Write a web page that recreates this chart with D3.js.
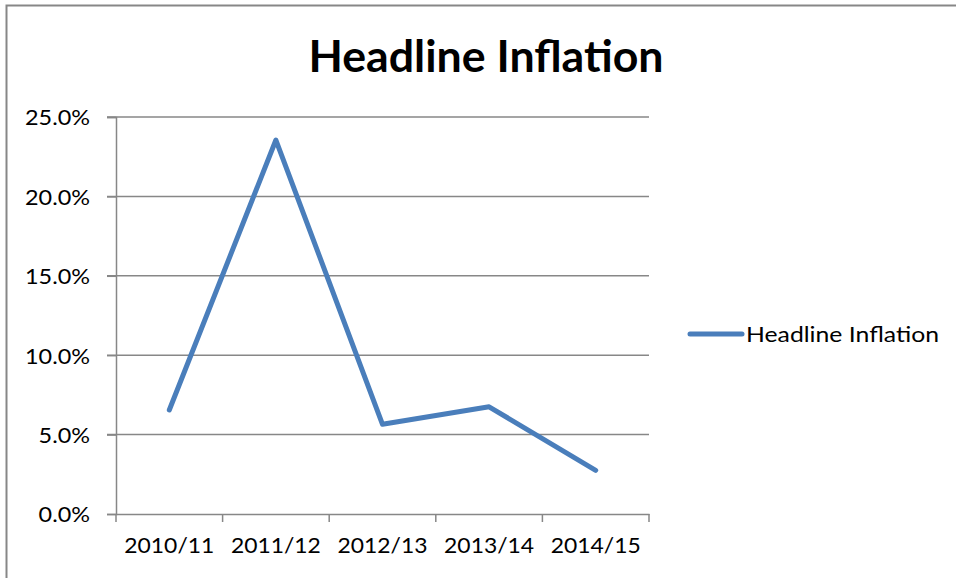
<!DOCTYPE html>
<html><head><meta charset="utf-8">
<script src="https://cdn.jsdelivr.net/npm/d3@7"></script>
<style>body{margin:0;background:#fff}svg{display:block}</style>
</head><body>
<script>
const categories = ["2010/11","2011/12","2012/13","2013/14","2014/15"];
const values = [6.55, 23.55, 5.65, 6.75, 2.75];
const yTicks = [0,5,10,15,20,25];
const title = "Headline Inflation";
const seriesName = "Headline Inflation";

(function(){
const W = 956, H = 578;
const font = "Lato, 'Open Sans', sans-serif";
const svg = d3.select("body").append("svg").attr("width", W).attr("height", H);

svg.append("rect").attr("x",6.5).attr("y",5.5).attr("width",W).attr("height",H)
  .attr("fill","#fff").attr("stroke","#878787").attr("stroke-width",2);

const pL = 116, pR = 649, pT = 117, pB = 514;
const x = d3.scaleBand().domain(categories).range([pL, pR]);
const y = d3.scaleLinear().domain([0,25]).range([pB, pT]);

function squeeze(sel, k){
  sel.each(function(){
    const w = this.getComputedTextLength();
    d3.select(this).attr("textLength", w*k).attr("lengthAdjust","spacingAndGlyphs");
  });
}

const t = svg.append("text").attr("x",486).attr("y",72).attr("text-anchor","middle")
  .attr("font-family",font).attr("font-weight","bold").attr("font-size",43).attr("fill","#000").text(title);
squeeze(t, 355/t.node().getComputedTextLength());

svg.append("g").selectAll("line").data(yTicks.filter(d=>d>0)).join("line")
  .attr("x1",107).attr("x2",pR).attr("y1",d=>y(d)).attr("y2",d=>y(d))
  .attr("stroke","#878787").attr("stroke-width",1.5);

const ya = svg.append("g").attr("transform",`translate(${pL},0)`)
  .call(d3.axisLeft(y).tickValues(yTicks).tickSize(9).tickPadding(17).tickFormat(d=>d.toFixed(1)+"%"));
ya.select(".domain").attr("stroke","#878787").attr("stroke-width",1.5);
ya.selectAll(".tick line").attr("stroke","#878787").attr("stroke-width",1.5);
const yt = ya.selectAll(".tick text").attr("font-family",font).attr("font-size",22).attr("fill","#000")
  .attr("dy","0.36em");
const w25 = yt.filter(d=>d===25).node().getComputedTextLength();
squeeze(yt, 65/w25);

const xa = svg.append("g").attr("transform",`translate(0,${pB})`)
  .call(d3.axisBottom(x).tickSize(0).tickPadding(20));
xa.select(".domain").attr("stroke","#878787").attr("stroke-width",1.5);
const xt = xa.selectAll(".tick text").attr("font-family",font).attr("font-size",22).attr("fill","#000")
  .attr("dy","0.85em");
squeeze(xt, 90/xt.node().getComputedTextLength());
const edges = categories.map(c=>x(c)).concat([pR]);
svg.append("g").selectAll("line").data(edges).join("line")
  .attr("x1",d=>d).attr("x2",d=>d).attr("y1",pB).attr("y2",pB+8)
  .attr("stroke","#878787").attr("stroke-width",1.5);

const line = d3.line().x((d,i)=>x(categories[i])+x.bandwidth()/2).y(d=>y(d));
svg.append("path").datum(values).attr("d",line).attr("fill","none")
  .attr("stroke","#4a7ebb").attr("stroke-width",5).attr("stroke-linecap","round").attr("stroke-linejoin","round");

svg.append("line").attr("x1",690).attr("x2",742).attr("y1",334).attr("y2",334)
  .attr("stroke","#4a7ebb").attr("stroke-width",5).attr("stroke-linecap","round");
const lt = svg.append("text").attr("x",746).attr("y",342).attr("font-family",font)
  .attr("font-size",22).attr("fill","#000").text(seriesName);
squeeze(lt, 193/lt.node().getComputedTextLength());
})();
</script>
</body></html>
